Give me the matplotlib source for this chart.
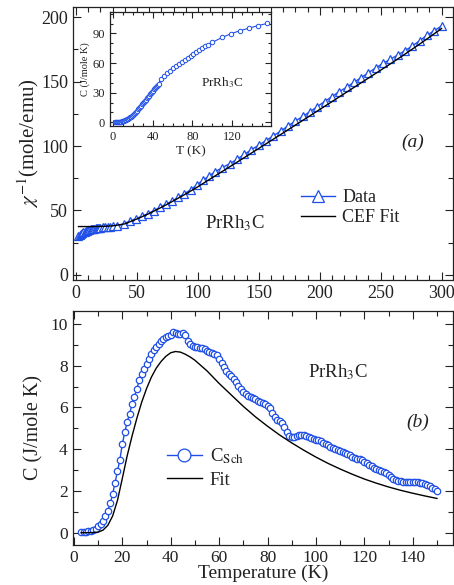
import numpy as np
import matplotlib
matplotlib.use("Agg")
import matplotlib.pyplot as plt
from matplotlib.ticker import MultipleLocator

plt.rcParams["font.family"] = ["Liberation Serif", "DejaVu Serif"]
plt.rcParams["mathtext.fontset"] = "stix"

BLUE = "#1f4fe6"
INK = "#222222"

# --- panel (a): inverse susceptibility ---
chi_T = [2, 3, 4, 5, 6, 7, 8, 9, 10, 11, 12, 13, 14, 15, 16, 17, 18, 19, 20,
         22, 24, 26, 28, 30,
         34, 39, 44, 49, 54, 59, 64, 69, 74, 79, 84, 89, 94, 99, 104, 109,
         114, 120, 126, 132, 138, 144, 150, 156, 162, 168, 174, 180, 186,
         192, 198, 204, 210, 216, 222, 228, 234, 240, 246, 252, 258, 264,
         270, 276, 282, 288, 294, 300]
chi_inv = [30.0, 31.0, 31.8, 32.5, 33.1, 33.6, 34.0, 34.4, 34.7, 35.0, 35.3,
           35.5, 35.7, 35.9, 36.1, 36.2, 36.4, 36.5, 36.6,
           36.8, 37.0, 37.2, 37.4, 37.6,
           38.0, 39.6, 41.7, 43.6, 45.5, 47.5, 49.9, 52.5, 54.9, 57.3, 60.2,
           63.1, 66.0, 69.8, 73.3, 76.7,
           80.0, 83.2, 86.3, 89.6, 93.5, 97.2, 100.8, 104.3, 108.0, 111.7,
           115.7, 119.4, 123.0, 126.7, 130.6, 134.6, 138.4, 142.3, 145.6,
           149.5, 153.1, 157.0, 160.7, 164.3, 167.4, 170.7, 174.1, 177.7,
           181.8, 186.0, 189.6, 193.3]

cef_T = [2, 10, 20, 30, 40, 50, 60, 70, 80, 90, 100, 110, 120, 130, 140, 150,
         160, 170, 180, 190, 200, 210, 220, 230, 240, 250, 260, 270, 280,
         290, 300]
cef_fit = [37.5, 37.5, 37.6, 38.0, 39.6, 43.4, 47.6, 52.4, 57.5, 62.8, 68.4,
           74.4, 80.3, 86.2, 92.2, 98.2, 104.2, 110.2, 116.3, 122.3, 128.4,
           134.5, 140.6, 146.7, 152.8, 158.9, 165.1, 171.4, 177.9, 184.5,
           191.3]

# inset: total specific heat
cin_T = [2, 3, 4, 5, 6, 7, 8, 9, 10, 11, 12, 13, 14, 15, 16, 17, 18, 19, 20,
         21, 22, 23, 24, 25, 26, 27, 28, 29, 30, 31, 32, 33, 34, 35, 36, 37,
         38, 39, 40, 41, 42, 43, 44, 45, 46,
         48, 51, 54, 57, 60, 63, 66, 69, 72, 75, 78, 81, 84, 87, 90, 93, 96,
         100, 110, 119, 128, 137, 146, 155]
cin_C = [0.1, 0.1, 0.2, 0.2, 0.3, 0.4, 0.6, 0.8, 1.1, 1.5, 2.0, 2.5, 3.0, 3.6,
         4.3, 5.0, 5.8, 6.6, 7.5, 8.5, 9.6, 10.7, 11.9, 13.1, 14.3, 15.5,
         16.8, 18.0, 19.3, 20.5, 21.8, 23.0, 24.3, 25.6, 26.9, 28.2, 29.5,
         30.8, 32.0, 33.2, 34.5, 35.7, 36.9, 38.0, 39.2,
         43.5, 46.5, 49.5, 52.3, 55.0, 57.3, 59.5, 61.5, 63.5, 65.5, 67.6,
         69.6, 71.5, 73.3, 75.1, 76.9, 78.6, 81.0, 86.0, 89.8, 92.8, 95.4,
         97.9, 100.1]

# --- panel (b): Schottky contribution ---
sch_T = list(range(3, 151))
sch_C = [0.02, 0.03, 0.05, 0.07, 0.10, 0.14, 0.20, 0.30, 0.42, 0.58, 0.78,
         1.05, 1.40, 1.85, 2.40, 2.95, 3.50, 4.25, 4.80, 5.30, 5.70, 6.15,
         6.50, 6.90, 7.30, 7.60, 7.85, 8.10, 8.30, 8.55, 8.75, 8.90, 9.05,
         9.20, 9.30, 9.38, 9.42, 9.45, 9.60, 9.58, 9.52, 9.50, 9.55, 9.45,
         9.20, 9.05, 8.95, 8.90, 8.88, 8.86, 8.85, 8.80, 8.72, 8.66, 8.62,
         8.58, 8.50, 8.30, 8.12, 7.92, 7.75, 7.62, 7.50, 7.38, 7.20, 7.05,
         6.88, 6.72, 6.62, 6.55, 6.50, 6.45, 6.40, 6.33, 6.27, 6.22, 6.15,
         6.05, 5.95, 5.75, 5.55, 5.42, 5.35, 5.25, 5.05, 4.80, 4.62, 4.58,
         4.58, 4.62, 4.66, 4.70, 4.70, 4.65, 4.57, 4.52, 4.50, 4.45, 4.42,
         4.38, 4.32, 4.25, 4.18, 4.12, 4.08, 4.02, 3.97, 3.92, 3.87, 3.82,
         3.76, 3.70, 3.64, 3.58, 3.54, 3.52, 3.48, 3.40, 3.33, 3.25, 3.18,
         3.12, 3.06, 3.02, 2.97, 2.92, 2.85, 2.75, 2.65, 2.57, 2.52, 2.48,
         2.46, 2.45, 2.44, 2.44, 2.44, 2.44, 2.43, 2.42, 2.40, 2.38, 2.34,
         2.28, 2.22, 2.15, 2.07, 2.00]

fit_T = [3, 6, 8, 10, 12, 14, 16, 18, 20, 22, 24, 26, 28, 30, 32, 34, 36, 38,
         40, 42, 44, 46, 48, 50, 55, 60, 65, 70, 75, 80, 85, 90, 95, 100, 105,
         110, 115, 120, 125, 130, 135, 140, 145, 150]
fit_C = [0.0, 0.0, 0.01, 0.03, 0.12, 0.35, 0.80, 1.55, 2.60, 3.68, 4.62,
         5.48, 6.25, 6.90, 7.45, 7.88, 8.20, 8.45, 8.62, 8.68, 8.65, 8.55,
         8.42, 8.26, 7.75, 7.15, 6.60, 6.05, 5.55, 5.10, 4.68, 4.30, 3.95,
         3.62, 3.32, 3.05, 2.80, 2.57, 2.37, 2.19, 2.03, 1.89, 1.76, 1.64]


def style_ticks(ax, size, length=5):
    ax.tick_params(which="both", direction="in", top=True, right=True,
                   labelsize=size, colors=INK, width=0.8)
    ax.tick_params(which="major", length=length)
    ax.tick_params(which="minor", length=length * 0.55)
    for s in ax.spines.values():
        s.set_color(INK)
        s.set_linewidth(0.9)


fig = plt.figure(figsize=(4.54, 5.85), dpi=100)

# top panel
ax1 = fig.add_axes([73 / 454, 1 - 280 / 585, 379.5 / 454, 273 / 585])
ax1.plot(chi_T, chi_inv, color=BLUE, lw=1.0, marker="^", ms=5.5, mfc="white",
         mec=BLUE, mew=0.9, label="Data")
ax1.plot(cef_T, cef_fit, color="black", lw=1.0, label="CEF Fit")
ax1.set_xlim(-2.5, 309)
ax1.set_ylim(-4, 208)
ax1.xaxis.set_major_locator(MultipleLocator(50))
ax1.xaxis.set_minor_locator(MultipleLocator(10))
ax1.yaxis.set_major_locator(MultipleLocator(50))
ax1.yaxis.set_minor_locator(MultipleLocator(25))
style_ticks(ax1, 13, 6)
ax1.set_ylabel(r"$\chi^{-1}$(mole/emu)", fontsize=15, color=INK, labelpad=0)
ax1.text(130, 40, r"PrRh$_3$C", fontsize=13.5, color=INK, ha="center",
         va="center")
ax1.text(276, 103, "(a)", fontsize=14, style="italic", color=INK,
         ha="center", va="center")
leg1 = ax1.legend(loc="center left", bbox_to_anchor=(0.6, 0.265),
                  frameon=False, fontsize=13, handlelength=1.9,
                  handletextpad=0.4, labelspacing=0.15, markerscale=1.6,
                  borderaxespad=0, borderpad=0)
for t in leg1.get_texts():
    t.set_color(INK)

# inset
axi = fig.add_axes([110 / 454, 1 - 125.7 / 585, 161 / 454, 114 / 585])
axi.plot(cin_T, cin_C, color=BLUE, lw=0.8, marker="o", ms=3.2, mfc="white",
         mec=BLUE, mew=0.7)
axi.set_xlim(-3, 159)
axi.set_ylim(-3.5, 112)
axi.xaxis.set_major_locator(MultipleLocator(40))
axi.xaxis.set_minor_locator(MultipleLocator(10))
axi.yaxis.set_major_locator(MultipleLocator(30))
axi.yaxis.set_minor_locator(MultipleLocator(10))
style_ticks(axi, 9, 4)
axi.set_xlabel("T (K)", fontsize=9.5, color=INK, labelpad=2)
axi.set_ylabel("C (J/mole K)", fontsize=7.5, color=INK, labelpad=2)
axi.text(110, 40, r"PrRh$_3$C", fontsize=9.5, color=INK, ha="center",
         va="center")

# bottom panel
ax2 = fig.add_axes([72.7 / 454, 40 / 585, 380 / 454, 234 / 585])
ax2.plot(sch_T, sch_C, color=BLUE, lw=1.0, marker="o", ms=4.6, mfc="white",
         mec=BLUE, mew=0.9, label=r"C$_{\rm Sch}$")
ax2.plot(fit_T, fit_C, color="black", lw=1.0, label="Fit")
ax2.set_xlim(-0.5, 156.5)
ax2.set_ylim(-0.59, 10.62)
ax2.xaxis.set_major_locator(MultipleLocator(20))
ax2.xaxis.set_minor_locator(MultipleLocator(10))
ax2.yaxis.set_major_locator(MultipleLocator(2))
ax2.yaxis.set_minor_locator(MultipleLocator(1))
style_ticks(ax2, 12.5, 6)
ax2.set_xlabel("Temperature (K)", fontsize=14, color=INK, labelpad=-1)
ax2.set_ylabel("C (J/mole K)", fontsize=14.5, color=INK, labelpad=5)
ax2.text(109, 7.7, r"PrRh$_3$C", fontsize=13.5, color=INK, ha="center",
         va="center")
ax2.text(142, 5.3, "(b)", fontsize=14, style="italic", color=INK,
         ha="center", va="center")
leg2 = ax2.legend(loc="center left", bbox_to_anchor=(0.247, 0.33),
                  frameon=False, fontsize=13.5, handlelength=1.9,
                  handletextpad=0.4, labelspacing=0.3, markerscale=2.0,
                  borderaxespad=0, borderpad=0)
for t in leg2.get_texts():
    t.set_color(INK)

fig.savefig("out.png", dpi=100)
